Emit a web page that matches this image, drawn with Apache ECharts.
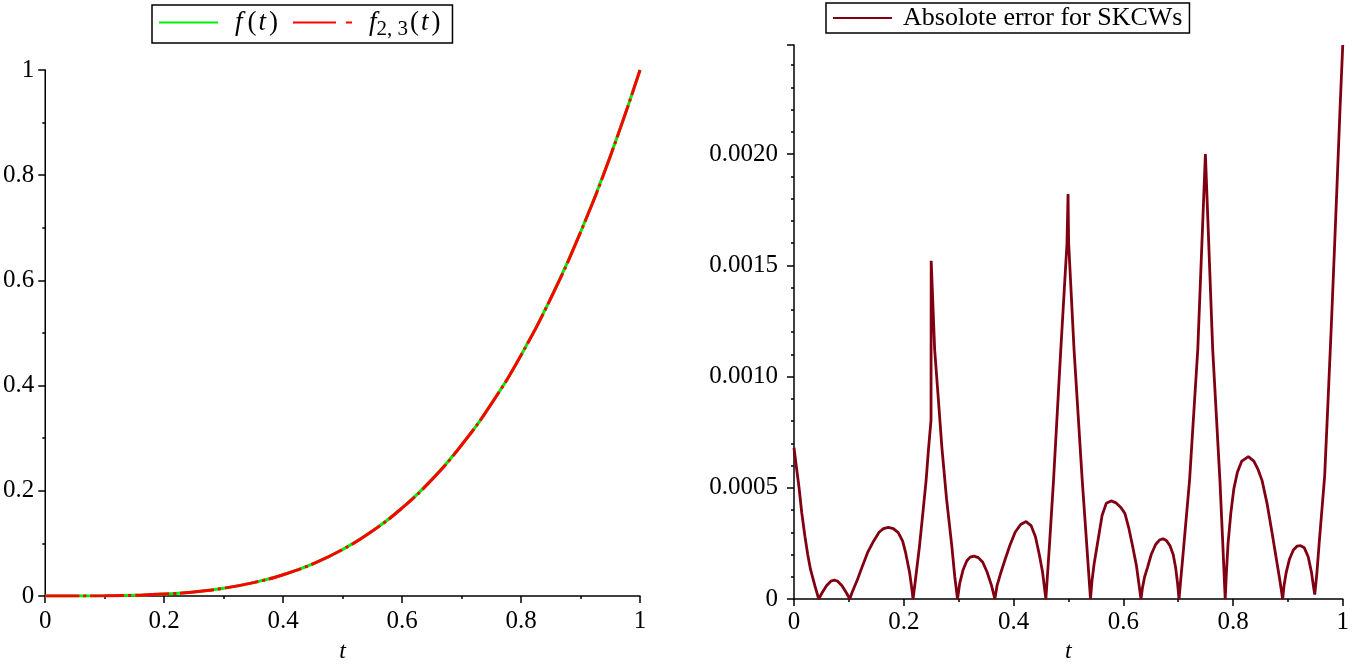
<!DOCTYPE html>
<html>
<head>
<meta charset="utf-8">
<script src="https://cdn.jsdelivr.net/npm/echarts@6/dist/echarts.min.js"></script>
<style>
html,body{margin:0;padding:0;background:#fff;}
#main{width:1352px;height:669px;}
</style>
</head>
<body>
<div id="main"></div>
<script>
// ---- Left panel data: f(t) and its approximation f_{2,3}(t)
var tValues = [0, 0.05, 0.1, 0.15, 0.2, 0.25, 0.3, 0.35, 0.4, 0.45, 0.5, 0.55, 0.6, 0.65, 0.7, 0.75, 0.8, 0.85, 0.9, 0.95, 1];
var fValues = [0, 0.00003, 0.0003, 0.0013, 0.0036, 0.0078, 0.0148, 0.0254, 0.0405, 0.0611, 0.0884, 0.1234, 0.1673, 0.2212, 0.287, 0.3654, 0.4579, 0.5661, 0.6915, 0.8358, 1];
var approxValues = [0, 0.00003, 0.0003, 0.0013, 0.0036, 0.0078, 0.0148, 0.0254, 0.0405, 0.0611, 0.0884, 0.1234, 0.1673, 0.2212, 0.287, 0.3654, 0.4579, 0.5661, 0.6915, 0.8358, 1];

// ---- Right panel data: absolute error for SKCWs
var errT = [0, 0.004, 0.0091, 0.014, 0.0199, 0.025, 0.030, 0.038, 0.045,
  0.0507, 0.0592, 0.0676, 0.0733, 0.079, 0.0875, 0.0959, 0.1016,
  0.106, 0.116, 0.125, 0.134, 0.145, 0.155, 0.163, 0.172, 0.181, 0.19, 0.198, 0.2034, 0.2106, 0.2145, 0.217,
  0.222, 0.2287, 0.235, 0.2407, 0.245, 0.2497, 0.25, 0.2563, 0.263, 0.2695, 0.278, 0.2876, 0.293, 0.298,
  0.302, 0.308, 0.315, 0.321, 0.328, 0.336, 0.344, 0.352, 0.36, 0.366,
  0.37, 0.377, 0.385, 0.393, 0.403, 0.413, 0.423, 0.432, 0.44, 0.447, 0.453, 0.459,
  0.466, 0.4729, 0.4862, 0.4975, 0.4994, 0.5005, 0.5103, 0.5253, 0.533, 0.5403,
  0.543, 0.547, 0.5523, 0.5614, 0.569, 0.578, 0.587, 0.596, 0.603, 0.61, 0.617, 0.624, 0.6323,
  0.635, 0.639, 0.644, 0.651, 0.659, 0.666, 0.6727, 0.679, 0.685, 0.691, 0.6955, 0.699, 0.7016,
  0.71, 0.7208, 0.7358, 0.7497, 0.763, 0.7762, 0.781, 0.7858,
  0.788, 0.791, 0.796, 0.8015, 0.808, 0.816, 0.828, 0.838, 0.846, 0.853, 0.862, 0.871, 0.879, 0.885, 0.8905,
  0.893, 0.897, 0.903, 0.91, 0.917, 0.923, 0.93, 0.937, 0.943, 0.947, 0.949,
  0.953, 0.957, 0.962, 0.967, 0.973, 0.979, 0.985, 0.99, 0.995, 1.0];
var errV = [0.00068, 0.0006, 0.000503, 0.00039, 0.000282, 0.0002, 0.000134, 0.00006, 0,
  0.000026, 0.00006, 0.000081, 0.000085, 0.000081, 0.00006, 0.000026, 0,
  0.00003, 0.00009, 0.00015, 0.000208, 0.00026, 0.0003, 0.000316, 0.000322, 0.000316, 0.000298, 0.00026, 0.000208, 0.00012, 0.00005, 0,
  0.0001, 0.000238, 0.00039, 0.000532, 0.00067, 0.000805, 0.00152, 0.001122, 0.0009, 0.00068, 0.00045, 0.000238, 0.0001, 0,
  0.00007, 0.00013, 0.000172, 0.000188, 0.000193, 0.000186, 0.000165, 0.00012, 0.00006, 0,
  0.00006, 0.000119, 0.00018, 0.000238, 0.0003, 0.000335, 0.000348, 0.00033, 0.00028, 0.0002, 0.00012, 0,
  0.00026, 0.000532, 0.001122, 0.0016, 0.00182, 0.0016, 0.001122, 0.000532, 0.00026, 0,
  0.00008, 0.00016, 0.000238, 0.000375, 0.00043, 0.000441, 0.000432, 0.00041, 0.000385, 0.00032, 0.000238, 0.00015, 0,
  0.00005, 0.0001, 0.00014, 0.0002, 0.000245, 0.000265, 0.000271, 0.000262, 0.00024, 0.0002, 0.00014, 0.00007, 0,
  0.00023, 0.000532, 0.001122, 0.002, 0.001122, 0.000532, 0.00027, 0,
  0.00012, 0.00025, 0.000385, 0.000495, 0.00057, 0.00062, 0.00064, 0.00062, 0.00058, 0.000532, 0.00043, 0.0003, 0.00018, 0.00009, 0,
  0.00006, 0.00012, 0.00018, 0.00022, 0.000238, 0.00024, 0.00023, 0.00019, 0.00012, 0.00005, 0.00002,
  0.00012, 0.00025, 0.0004, 0.000551, 0.00088, 0.001218, 0.00158, 0.001886, 0.0022, 0.00249];

// ---- Tick labels
var leftXTicks = [0, 0.2, 0.4, 0.6, 0.8, 1];
var leftYTicks = [0, 0.2, 0.4, 0.6, 0.8, 1];
var rightYTicks = ['0', '0.0005', '0.0010', '0.0015', '0.0020'];

function zip(a, b) { return a.map(function (v, i) { return [v, b[i]]; }); }

var FONT = 'Liberation Serif';
var LBL = 25;
var lineSt = { color: '#000', width: 1.5 };
function baseAxis(extra) {
  var o = {
    axisLine: { show: true, onZero: false, lineStyle: lineSt },
    axisTick: { show: true, length: 7, lineStyle: lineSt },
    minorTick: { show: true, length: 3, lineStyle: lineSt },
    splitLine: { show: false },
    minorSplitLine: { show: false }
  };
  for (var k in extra) o[k] = extra[k];
  return o;
}
function tenthFmt(list) {
  return function (v) { var k = Math.round(v * 10) / 10; return list.indexOf(k) >= 0 ? String(k) : ''; };
}

var chart = echarts.init(document.getElementById('main'), null, { renderer: 'canvas' });

var richText = {
  i: { fontFamily: FONT, fontStyle: 'italic', fontSize: 27, color: '#000' },
  it: { fontFamily: FONT, fontStyle: 'italic', fontSize: 27, color: '#000', padding: [0, 3, 0, 2] },
  lp: { fontFamily: FONT, fontSize: 27, color: '#000', padding: [0, 0, 0, 5] },
  n: { fontFamily: FONT, fontSize: 27, color: '#000' },
  s: { fontFamily: FONT, fontSize: 21, color: '#000', padding: [14, 2, 0, 0] },
  r: { fontFamily: FONT, fontSize: 26, color: '#000' }
};
var hiddenSymbol = { color: 'rgba(0,0,0,0)', borderWidth: 0, opacity: 0 };

var option = {
  animation: false,
  backgroundColor: '#fff',
  grid: [
    { left: 44, top: 70, width: 596, height: 534 },
    { left: 794, top: 45, width: 554, height: 562 }
  ],
  legend: [
    {
      left: 152, top: 5,
      borderColor: '#000', borderWidth: 1.5, borderRadius: 0,
      padding: [4, 12, 3, 6],
      itemWidth: 59, itemHeight: 14, itemGap: 14,
      itemStyle: hiddenSymbol,
      data: [
        { name: 'f(t)' },
        { name: 'f23', lineStyle: { type: [43, 10, 6, 40] } }
      ],
      formatter: function (name) {
        if (name === 'f(t)') return '{i|f}{lp|(}{it|t}{n|)}';
        return '{i|f}{s|2, 3}{n|(}{it|t}{n|)}';
      },
      textStyle: { rich: richText, padding: [0, 0, 0, 12] }
    },
    {
      left: 826, top: 3,
      borderColor: '#000', borderWidth: 1.5, borderRadius: 0,
      padding: [2, 7, 2, 6],
      itemWidth: 59, itemHeight: 14,
      itemStyle: hiddenSymbol,
      data: [{ name: 'err' }],
      formatter: function () { return '{r|Absolote error for SKCWs}'; },
      textStyle: { rich: richText, padding: [0, 0, 0, 6] }
    }
  ],
  xAxis: [
    baseAxis({
      gridIndex: 0, type: 'value', min: 0, max: 1, interval: 0.2,
      minorTick: { show: true, splitNumber: 2, length: 3, lineStyle: lineSt },
      axisLabel: { color: '#000', fontFamily: FONT, fontSize: LBL, margin: 13, formatter: tenthFmt(leftXTicks) },
      name: 't', nameLocation: 'middle', nameGap: 44,
      nameTextStyle: { fontFamily: FONT, fontStyle: 'italic', fontSize: 24, color: '#000' }
    }),
    baseAxis({
      gridIndex: 1, type: 'value', min: 0, max: 1, interval: 0.2,
      minorTick: { show: true, splitNumber: 2, length: 3, lineStyle: lineSt },
      axisLabel: { color: '#000', fontFamily: FONT, fontSize: LBL, margin: 11, formatter: tenthFmt(leftXTicks) },
      name: 't', nameLocation: 'middle', nameGap: 41,
      nameTextStyle: { fontFamily: FONT, fontStyle: 'italic', fontSize: 24, color: '#000' }
    })
  ],
  yAxis: [
    baseAxis({
      gridIndex: 0, type: 'value', min: 0, max: 1, interval: 0.2,
      minorTick: { show: true, splitNumber: 2, length: 3, lineStyle: lineSt },
      axisLabel: { color: '#000', fontFamily: FONT, fontSize: LBL, margin: 11, formatter: tenthFmt(leftYTicks) }
    }),
    baseAxis({
      gridIndex: 1, type: 'value', min: 0, max: 0.00249, interval: 0.0005,
      minorTick: { show: true, splitNumber: 5, length: 3, lineStyle: lineSt },
      axisLabel: { color: '#000', fontFamily: FONT, fontSize: LBL, margin: 16,
        formatter: function (v) {
          var k = Math.round(v / 0.0005);
          if (Math.abs(v - k * 0.0005) > 1e-9) return '';
          return rightYTicks[k] !== undefined ? rightYTicks[k] : '';
        } }
    })
  ],
  series: [
    {
      name: 'f(t)', type: 'line', xAxisIndex: 0, yAxisIndex: 0,
      data: zip(tValues, fValues), smooth: true, showSymbol: false, symbol: 'none',
      lineStyle: { color: '#00ee00', width: 3 }, itemStyle: { color: '#00ee00' }, z: 2
    },
    {
      name: 'f23', type: 'line', xAxisIndex: 0, yAxisIndex: 0,
      data: zip(tValues, approxValues), smooth: true, showSymbol: false, symbol: 'none',
      lineStyle: { color: '#ff0000', width: 3, type: [34, 4, 3, 4] }, itemStyle: { color: '#ff0000' }, z: 3
    },
    {
      name: 'err', type: 'line', xAxisIndex: 1, yAxisIndex: 1,
      data: zip(errT, errV), smooth: false, showSymbol: false, symbol: 'none',
      lineStyle: { color: '#800012', width: 2.8 }, itemStyle: { color: '#800012' }, z: 2
    }
  ]
};
chart.setOption(option);
</script>
</body>
</html>
